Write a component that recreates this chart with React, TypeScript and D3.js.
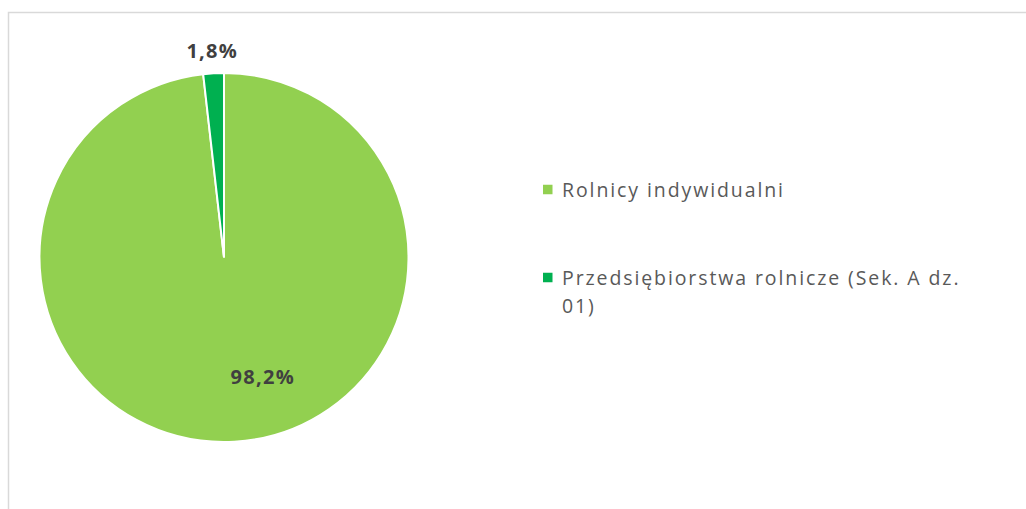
import React from "react";
import * as d3 from "d3";

const categories = ["Rolnicy indywidualni", "Przedsiębiorstwa rolnicze (Sek. A dz. 01)"];
const values = [98.2, 1.8];
const valueLabels = ["98,2%", "1,8%"];
const legendLines = [["Rolnicy indywidualni"], ["Przedsiębiorstwa rolnicze (Sek. A dz.", "01)"]];
const colors = ["#92D050", "#00B050"];

const W = 1026;
const H = 509;

export default function App() {
  const cx = 224;
  const cy = 257.5;
  const r = 184.5;
  const pie = d3.pie<number>().sort(null).value((d) => d);
  const arcs = pie(values);
  const arc = d3.arc<d3.PieArcDatum<number>>().innerRadius(0).outerRadius(r);
  const font = "'Open Sans', sans-serif";

  const labelPos = (a: d3.PieArcDatum<number>, i: number) => {
    if (i === 0) {
      return [r * 0.21, r * 0.645];
    }
    const mid = (a.startAngle + a.endAngle) / 2;
    const rr = r + 23;
    return [Math.sin(mid) * rr, -Math.cos(mid) * rr];
  };

  return (
    <svg width={W} height={H} style={{ position: "absolute", left: 0, top: 0, background: "#fff" }}>
      <rect x={8.5} y={12.5} width={W + 10} height={H + 10} fill="#fff" stroke="#d9d9d9" strokeWidth={1.5} />
      <g transform={`translate(${cx},${cy})`}>
        {arcs.map((a, i) => (
          <path key={i} d={arc(a) || ""} fill={colors[i]} stroke="#fff" strokeWidth={2} />
        ))}
        {arcs.map((a, i) => {
          const [x, y] = labelPos(a, i);
          return (
            <text key={i} x={x} y={y} textAnchor="middle" dominantBaseline="central"
              fontFamily={font} fontWeight="bold" fontSize={20} letterSpacing={1.3} fill="#404040">
              {valueLabels[i]}
            </text>
          );
        })}
      </g>
      <g>
        {categories.map((c, i) => {
          const y0 = i === 0 ? 189.5 : 277.5;
          return (
            <g key={c}>
              <rect x={543} y={y0 - 4.75} width={9.5} height={9.5} fill={colors[i]} />
              {legendLines[i].map((ln, j) => (
                <text key={j} x={562} y={y0 + 7 + j * 28.5} fontFamily={font} fontSize={19.5}
                  letterSpacing={1.9} fill="#595959">
                  {ln}
                </text>
              ))}
            </g>
          );
        })}
      </g>
    </svg>
  );
}
